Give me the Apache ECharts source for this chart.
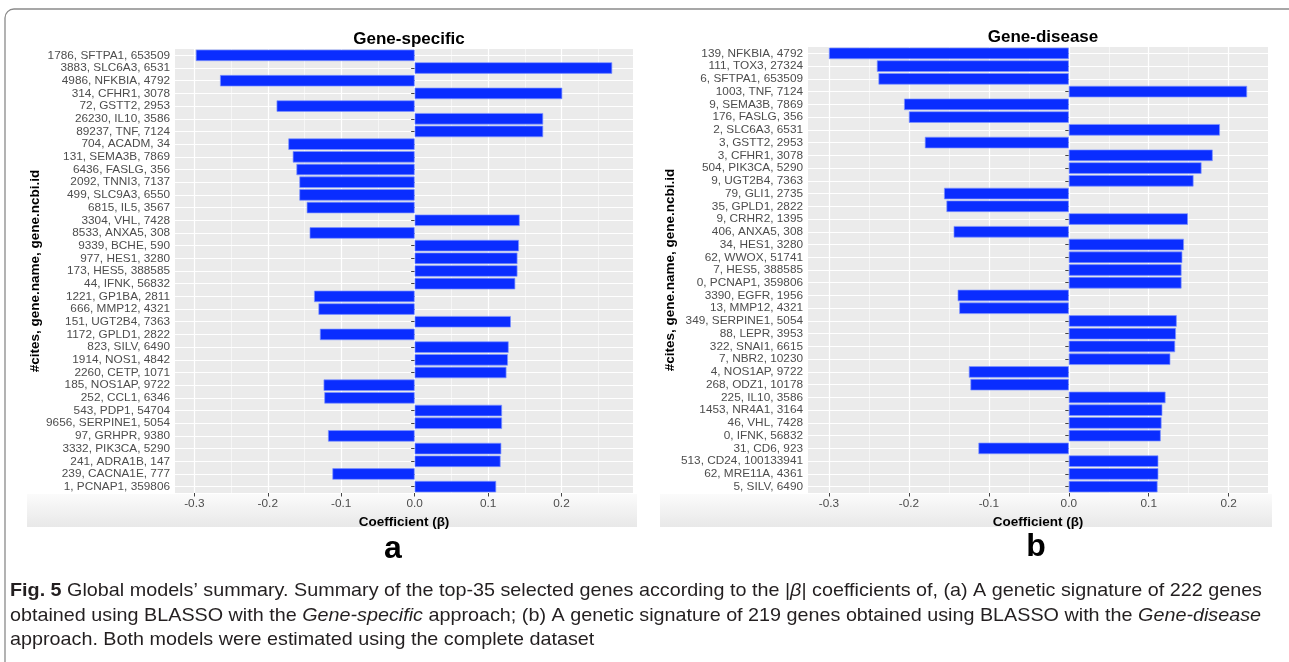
<!DOCTYPE html>
<html><head><meta charset="utf-8">
<script src="https://cdn.jsdelivr.net/npm/echarts@6/dist/echarts.min.js"></script>
<style>html,body{margin:0;padding:0;background:#fff}#c{width:1289px;height:662px}</style>
</head><body><div id="c"></div>
<script>
// ---------- data ----------
const titleA = 'Gene-specific';
const labelsA = ['1786, SFTPA1, 653509','3883, SLC6A3, 6531','4986, NFKBIA, 4792','314, CFHR1, 3078','72, GSTT2, 2953','26230, IL10, 3586','89237, TNF, 7124','704, ACADM, 34','131, SEMA3B, 7869','6436, FASLG, 356','2092, TNNI3, 7137','499, SLC9A3, 6550','6815, IL5, 3567','3304, VHL, 7428','8533, ANXA5, 308','9339, BCHE, 590','977, HES1, 3280','173, HES5, 388585','44, IFNK, 56832','1221, GP1BA, 2811','666, MMP12, 4321','151, UGT2B4, 7363','1172, GPLD1, 2822','823, SILV, 6490','1914, NOS1, 4842','2260, CETP, 1071','185, NOS1AP, 9722','252, CCL1, 6346','543, PDP1, 54704','9656, SERPINE1, 5054','97, GRHPR, 9380','3332, PIK3CA, 5290','241, ADRA1B, 147','239, CACNA1E, 777','1, PCNAP1, 359806'];
const valuesA = [-0.298, 0.269, -0.265, 0.201, -0.188, 0.175, 0.175, -0.172, -0.166, -0.161, -0.157, -0.157, -0.147, 0.143, -0.143, 0.142, 0.140, 0.140, 0.137, -0.137, -0.131, 0.131, -0.129, 0.128, 0.127, 0.125, -0.124, -0.123, 0.119, 0.119, -0.118, 0.118, 0.117, -0.112, 0.111];

const titleB = 'Gene-disease';
const labelsB = ['139, NFKBIA, 4792','111, TOX3, 27324','6, SFTPA1, 653509','1003, TNF, 7124','9, SEMA3B, 7869','176, FASLG, 356','2, SLC6A3, 6531','3, GSTT2, 2953','3, CFHR1, 3078','504, PIK3CA, 5290','9, UGT2B4, 7363','79, GLI1, 2735','35, GPLD1, 2822','9, CRHR2, 1395','406, ANXA5, 308','34, HES1, 3280','62, WWOX, 51741','7, HES5, 388585','0, PCNAP1, 359806','3390, EGFR, 1956','13, MMP12, 4321','349, SERPINE1, 5054','88, LEPR, 3953','322, SNAI1, 6615','7, NBR2, 10230','4, NOS1AP, 9722','268, ODZ1, 10178','225, IL10, 3586','1453, NR4A1, 3164','46, VHL, 7428','0, IFNK, 56832','31, CD6, 923','513, CD24, 100133941','62, MRE11A, 4361','5, SILV, 6490'];
const valuesB = [-0.300, -0.240, -0.238, 0.223, -0.206, -0.200, 0.189, -0.180, 0.180, 0.166, 0.156, -0.156, -0.153, 0.149, -0.144, 0.144, 0.142, 0.141, 0.141, -0.139, -0.137, 0.135, 0.134, 0.133, 0.127, -0.125, -0.123, 0.121, 0.117, 0.116, 0.115, -0.113, 0.112, 0.112, 0.111];

const xTicks = [-0.3, -0.2, -0.1, 0.0, 0.1, 0.2];
const xName = 'Coefficient (\u03b2)';
const yName = '#cites, gene.name, gene.ncbi.id';
const panelLetters = ['a', 'b'];
const captionLines = [
  [['b','Fig. 5'],['r',' Global models\u2019 summary. Summary of the top-35 selected genes according to the |'],['i','\u03b2'],['r','| coefficients of, (a) A genetic signature of 222 genes']],
  [['r','obtained using BLASSO with the '],['i','Gene-specific'],['r',' approach; (b) A genetic signature of 219 genes obtained using BLASSO with the '],['i','Gene-disease']],
  [['r','approach. Both models were estimated using the complete dataset']]
];

// ---------- helpers ----------
function ggRange(v){ const mn=Math.min(...v), mx=Math.max(...v), p=(mx-mn)*0.05; return [mn-p, mx+p]; }
function minorVals(r){ const out=[]; for(let k=Math.ceil(r[0]/0.05-1e-9); k*0.05<=r[1]+1e-9; k++){ if(Math.abs(k)%2===1) out.push(+(k*0.05).toFixed(2)); } return out; }
const rA = ggRange(valuesA), rB = ggRange(valuesB);

const FONT = "'Liberation Sans', Arial, Helvetica, sans-serif";
const CAPFONT = "'Liberation Sans', Arial, sans-serif";
const CAPSIZE = 19;

// horizontal squeeze so the caption's first line spans the reference width (condensed face look)
const ctx = document.createElement('canvas').getContext('2d');
function segWidth(line, size){
  let w=0; line.forEach(([k,t])=>{ ctx.font=(k==='b'?'bold ':k==='i'?'italic ':'')+size+'px '+CAPFONT; w+=ctx.measureText(t).width; }); return w;
}
const capScale = 1252/segWidth(captionLines[0], CAPSIZE);
function richLine(line){ return line.map(([k,t])=>'{'+k+'|'+t+'}').join(''); }

function xAxisCfg(gi, r){
  return {
    type:'value', gridIndex:gi, min:r[0], max:r[1], minInterval:0.1, maxInterval:0.1,
    name:xName, nameLocation:'middle', nameGap:16,
    nameTextStyle:{fontFamily:FONT, fontWeight:'bold', fontSize:13.5, color:'#000'},
    axisLine:{show:false},
    axisTick:{show:true, length:3.5, lineStyle:{color:'#444', width:1}, customValues:xTicks},
    axisLabel:{fontFamily:FONT, fontSize:11.8, color:'#4d4d4d', margin:5, customValues:xTicks, formatter:v=>v.toFixed(1)},
    splitLine:{show:true, lineStyle:{color:'#ffffff', width:1.2}}
  };
}
function yAxisCfg(gi, labels, gap){
  return {
    type:'category', gridIndex:gi, data:labels, inverse:true,
    name:yName, nameLocation:'middle', nameGap:gap, nameRotate:90,
    nameTextStyle:{fontFamily:FONT, fontWeight:'bold', fontSize:13.5, color:'#000'},
    axisLine:{show:false},
    axisTick:{show:true, alignWithLabel:true, length:3.5, lineStyle:{color:'#444', width:1}},
    axisLabel:{fontFamily:FONT, fontSize:11.8, color:'#4d4d4d', margin:5, interval:0},
    splitLine:{show:true, alignWithLabel:true, lineStyle:{color:'#ffffff', width:1.2}}
  };
}
function barSeries(i, vals, r){
  return {
    type:'bar', xAxisIndex:i, yAxisIndex:i, data:vals, barWidth:'90%', z:3,
    itemStyle:{color:'#0a2dff', borderColor:'#8095ff', borderWidth:0.7},
    markLine:{silent:true, symbol:'none', z:1, animation:false, label:{show:false},
      lineStyle:{color:'#ffffff', width:0.6, type:'solid', opacity:0.9},
      data:minorVals(r).map(v=>({xAxis:v}))}
  };
}

const chart = echarts.init(document.getElementById('c'), null, {renderer:'canvas'});
chart.setOption({
  animation:false,
  backgroundColor:'#ffffff',
  title:[
    {text:titleA, left:404, top:26, textAlign:'center', textStyle:{fontFamily:FONT, fontWeight:'bold', fontSize:17, color:'#000'}},
    {text:titleB, left:1038, top:24, textAlign:'center', textStyle:{fontFamily:FONT, fontWeight:'bold', fontSize:17, color:'#000'}}
  ],
  grid:[
    {left:175, top:49, width:458, height:444, show:true, backgroundColor:'#ebebeb', borderWidth:0},
    {left:808, top:47, width:460, height:446, show:true, backgroundColor:'#ebebeb', borderWidth:0}
  ],
  xAxis:[xAxisCfg(0, rA), xAxisCfg(1, rB)],
  yAxis:[yAxisCfg(0, labelsA, 126), yAxisCfg(1, labelsB, 130)],
  series:[barSeries(0, valuesA, rA), barSeries(1, valuesB, rB)],
  graphic:[
    {type:'rect', z:-10, silent:true, shape:{x:5, y:9, width:1300, height:680, r:9}, style:{fill:'none', stroke:'#8a8a8a', lineWidth:1.3}},
    {type:'rect', z:-5, silent:true, shape:{x:27, y:494, width:610, height:33},
      style:{fill:new echarts.graphic.LinearGradient(0,0,0,1,[{offset:0,color:'#fbfbfb'},{offset:1,color:'#e8e8e8'}])}},
    {type:'rect', z:-5, silent:true, shape:{x:660, y:494, width:612, height:33},
      style:{fill:new echarts.graphic.LinearGradient(0,0,0,1,[{offset:0,color:'#fbfbfb'},{offset:1,color:'#e8e8e8'}])}},
    {type:'text', x:393, y:549, style:{text:panelLetters[0], font:'bold 32px '+FONT, fill:'#000', align:'center', verticalAlign:'middle'}},
    {type:'text', x:1036, y:547, style:{text:panelLetters[1], font:'bold 32px '+FONT, fill:'#000', align:'center', verticalAlign:'middle'}},
    ...captionLines.map((line, i)=>({
      type:'text', x:10, y:591 + i*24.3, scaleX:capScale, originX:0, originY:0,
      style:{text:richLine(line), fontFamily:CAPFONT, fontSize:CAPSIZE, fill:'#231f20', verticalAlign:'middle', align:'left',
        rich:{
          b:{fontFamily:CAPFONT, fontSize:CAPSIZE, fontWeight:'bold', color:'#000'},
          r:{fontFamily:CAPFONT, fontSize:CAPSIZE, color:'#231f20'},
          i:{fontFamily:CAPFONT, fontSize:CAPSIZE, fontStyle:'italic', color:'#231f20'}
        }}
    }))
  ]
});
</script></body></html>
